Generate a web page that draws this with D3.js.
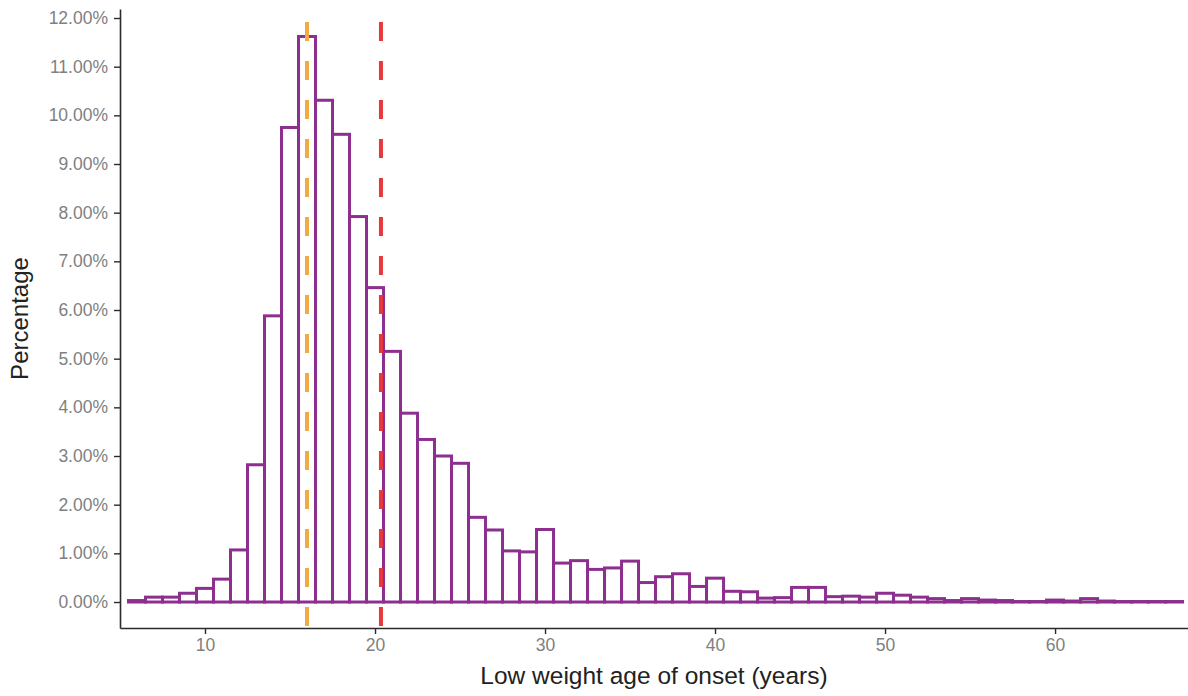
<!DOCTYPE html>
<html>
<head>
<meta charset="utf-8">
<script src="https://cdn.jsdelivr.net/npm/d3@7"></script>
<style>
    body { margin: 0; background: #ffffff; }
    svg { display: block; font-family: "Liberation Sans", Arial, sans-serif; }
</style>
</head>
<body>
<div id="chart"></div>
<script>
// Bin centres (years), one bin per year
const ages = [6, 7, 8, 9, 10, 11, 12, 13, 14, 15, 16, 17, 18, 19, 20, 21, 22, 23, 24, 25,
    26, 27, 28, 29, 30, 31, 32, 33, 34, 35, 36, 37, 38, 39, 40, 41, 42, 43, 44, 45,
    46, 47, 48, 49, 50, 51, 52, 53, 54, 55, 56, 57, 58, 59, 60, 61, 62, 63, 64, 65, 66, 67];

// Share of cases in each bin (%)
const percentages = [0.03, 0.10, 0.10, 0.18, 0.28, 0.47, 1.07, 2.82, 5.88, 9.75,
    11.62, 10.31, 9.61, 7.92, 6.46, 5.15, 3.88, 3.34, 3.00, 2.85,
    1.74, 1.48, 1.05, 1.03, 1.49, 0.80, 0.85, 0.67, 0.70, 0.84,
    0.40, 0.52, 0.58, 0.32, 0.49, 0.22, 0.21, 0.08, 0.09, 0.30,
    0.30, 0.11, 0.12, 0.10, 0.18, 0.14, 0.10, 0.07, 0.03, 0.07,
    0.04, 0.03, 0.01, 0.01, 0.04, 0.02, 0.07, 0.02, 0.01, 0.01, 0.01, 0.01];

// Reference lines: median and mean age
const referenceLines = [
    {name: "median", value: 16.0, color: "#f0ab45"},
    {name: "mean", value: 20.35, color: "#e8383b"}
];

const xTicks = [10, 20, 30, 40, 50, 60];
const yTicks = [0, 1, 2, 3, 4, 5, 6, 7, 8, 9, 10, 11, 12];

const width = 1188;
const height = 696;
const binWidth = 1;

const svg = d3.select("#chart").append("svg")
    .attr("width", width)
    .attr("height", height);

// Scales
const x = d3.scaleLinear()
    .domain([5, 67.82])
    .range([120, 1188]);

const y = d3.scaleLinear()
    .domain([-0.534, 12.185])
    .range([628, 9]);

const barColor = "#8d2f8f";

// Histogram bars
svg.append("g")
    .selectAll("rect")
    .data(ages.map((a, i) => ({age: a, pct: percentages[i]})))
    .join("rect")
    .attr("x", d => x(d.age - binWidth / 2))
    .attr("width", d => x(d.age + binWidth / 2) - x(d.age - binWidth / 2))
    .attr("y", d => y(d.pct))
    .attr("height", d => y(0) - y(d.pct))
    .attr("fill", "#ffffff")
    .attr("stroke", barColor)
    .attr("stroke-width", 3);

// Dashed reference lines span the whole panel
svg.append("g")
    .selectAll("line")
    .data(referenceLines)
    .join("line")
    .attr("x1", d => x(d.value))
    .attr("x2", d => x(d.value))
    .attr("y1", y(12.185))
    .attr("y2", y(-0.534))
    .attr("stroke", d => d.color)
    .attr("stroke-width", 4)
    .attr("stroke-dasharray", "19,20")
    .attr("stroke-dashoffset", 26);

// Axes (no outer ticks, like ggplot)
const xAxis = d3.axisBottom(x)
    .tickValues(xTicks)
    .tickSizeInner(6)
    .tickSizeOuter(0)
    .tickPadding(5)
    .tickFormat(d3.format("d"));

const yAxis = d3.axisLeft(y)
    .tickValues(yTicks)
    .tickSizeInner(6)
    .tickSizeOuter(0)
    .tickPadding(6)
    .tickFormat(d => d.toFixed(2) + "%");

const xAxisGroup = svg.append("g")
    .attr("transform", `translate(0, ${y(-0.534)})`)
    .call(xAxis);

const yAxisGroup = svg.append("g")
    .attr("transform", `translate(${x(5)}, 0)`)
    .call(yAxis);

[xAxisGroup, yAxisGroup].forEach(g => {
    g.select(".domain").attr("stroke", "#2b2b2b").attr("stroke-width", 1.6);
    g.selectAll(".tick line").attr("stroke", "#2b2b2b").attr("stroke-width", 1.4);
    g.selectAll(".tick text")
        .attr("fill", "#808080")
        .style("font-size", "17.5px")
        .style("font-family", "'Liberation Sans', Arial, sans-serif");
});

// Axis titles
svg.append("text")
    .attr("x", (x(5) + x(67.82)) / 2)
    .attr("y", 684)
    .attr("text-anchor", "middle")
    .attr("fill", "#222222")
    .style("font-size", "24.5px")
    .text("Low weight age of onset (years)");

svg.append("text")
    .attr("transform", `translate(28, ${(y(12.185) + y(-0.534)) / 2}) rotate(-90)`)
    .attr("text-anchor", "middle")
    .attr("fill", "#222222")
    .style("font-size", "24px")
    .text("Percentage");
</script>
</body>
</html>
